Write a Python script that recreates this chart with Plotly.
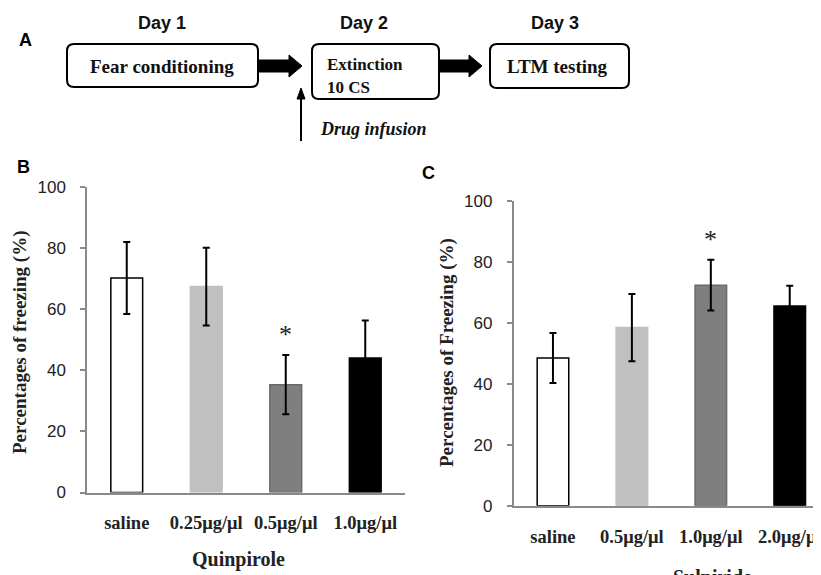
import plotly.graph_objects as go

# The page places the figure 8px in from the top-left corner of the window,
# so the figure is sized to fill the rest of the 821x575 view.
OX, OY = 8, 8
FW, FH = 821 - OX, 575 - OY

# ---------------- data ----------------
quin_cats = ["saline", "0.25μg/μl", "0.5μg/μl", "1.0μg/μl"]
quin_means = [70.2, 67.4, 35.3, 44.0]
quin_sem = [11.8, 12.7, 9.7, 12.3]
quin_sig = [False, False, True, False]

sulp_cats = ["saline", "0.5μg/μl", "1.0μg/μl", "2.0μg/μl"]
sulp_means = [48.4, 58.4, 72.3, 65.5]
sulp_sem = [8.2, 11.0, 8.3, 6.6]
sulp_sig = [False, False, True, False]

y_ticks = [0, 20, 40, 60, 80, 100]

bar_colors = ["white", "#c0c0c0", "#7f7f7f", "black"]
bar_lines = ["black", "#c0c0c0", "#6a6a6a", "black"]

SERIF = "Liberation Serif, Times New Roman, serif"
SANS = "Liberation Sans, Arial, sans-serif"


def px(x):
    return (x - OX) / FW


def py(y):
    return 1 - (y - OY) / FH


fig = go.Figure()

for cats, means, sem, xa, ya in [
    (quin_cats, quin_means, quin_sem, "x", "y"),
    (sulp_cats, sulp_means, sulp_sem, "x2", "y2"),
]:
    fig.add_trace(go.Bar(
        x=cats, y=means, xaxis=xa, yaxis=ya, width=0.4,
        marker=dict(color=bar_colors, line=dict(color=bar_lines, width=1.5)),
        error_y=dict(type="data", array=sem, visible=True, color="black",
                     thickness=2, width=3.5),
        showlegend=False, hoverinfo="x+y",
    ))

axis_common = dict(showgrid=False, zeroline=False, showline=True, automargin=False,
                   linecolor="#8a8a8a", linewidth=1.5)
xtick_font = dict(family=SERIF, size=18.5, color="#222", weight="bold")
ytick_font = dict(family=SANS, size=17, color="#222")

fig.update_layout(
    width=FW, height=FH, margin=dict(l=0, r=0, t=0, b=0, pad=0), autosize=False,
    paper_bgcolor="white", plot_bgcolor="white",
    xaxis=dict(domain=[px(87), px(405)], range=[-0.5, 3.5], anchor="y",
               type="category", ticks="", ticklabelstandoff=13,
               tickfont=xtick_font, **axis_common),
    yaxis=dict(domain=[py(492.5), py(187)], range=[0, 100], anchor="x",
               tickvals=y_ticks, ticks="outside", ticklen=5, tickcolor="#8a8a8a",
               tickwidth=1.5, ticklabelstandoff=11,
               tickfont=ytick_font, **axis_common),
    xaxis2=dict(domain=[px(513.5), 1.0], range=[-0.5, 3.396], anchor="y2",
                type="category", ticks="", ticklabelstandoff=13,
                tickfont=xtick_font, **axis_common),
    yaxis2=dict(domain=[py(505.7), py(200.7)], range=[0, 100], anchor="x2",
                tickvals=y_ticks, ticks="outside", ticklen=5, tickcolor="#8a8a8a",
                tickwidth=1.5, ticklabelstandoff=11,
                tickfont=ytick_font, **axis_common),
)

ann = []
# significance stars
for cats, means, sem, sig, xa, ya in [
    (quin_cats, quin_means, quin_sem, quin_sig, "x", "y"),
    (sulp_cats, sulp_means, sulp_sem, sulp_sig, "x2", "y2"),
]:
    for c, m, s, g in zip(cats, means, sem, sig):
        if g:
            ann.append(dict(x=c, y=m + s, xref=xa, yref=ya, text="*",
                            showarrow=False, xanchor="center", yanchor="bottom",
                            yshift=4, font=dict(family=SERIF, size=26, color="#222")))


def txt(text, x, y, size, family=SERIF, xanchor="center", yanchor="middle",
        angle=0, color="#111"):
    return dict(x=px(x), y=py(y), xref="paper", yref="paper", text=text,
                showarrow=False, xanchor=xanchor, yanchor=yanchor, textangle=angle,
                font=dict(family=family, size=size, color=color))


# axis titles
ann += [
    txt("<b>Percentages of freezing (%)</b>", 20, 342, 19, angle=-90, color="#222"),
    txt("<b>Percentages of Freezing (%)</b>", 447, 353, 19, angle=-90, color="#222"),
    txt("<b>Quinpirole</b>", 238, 559, 20, color="#222"),
    txt("<b>Sulpiride</b>", 712, 564, 20, yanchor="top", color="#222"),
]

# panel letters
for t, x, y in [("A", 25, 40), ("B", 23, 167), ("C", 428, 173)]:
    ann.append(txt(f"<b>{t}</b>", x, y, 18, family=SANS, color="black"))

# panel A texts
for t, x, y in [("Day 1", 162, 23), ("Day 2", 364, 23), ("Day 3", 555, 23)]:
    ann.append(txt(f"<b>{t}</b>", x, y, 18, family=SANS))

ann += [
    txt("<b>Fear conditioning</b>", 162, 66, 19),
    txt("<b>Extinction</b>", 325, 64, 17, xanchor="left"),
    txt("<b>10 CS</b>", 325, 87, 17, xanchor="left"),
    txt("<b>LTM testing</b>", 557, 66, 19),
    txt("<b><i>Drug infusion</i></b>", 318, 129, 18, xanchor="left"),
]
fig.update_layout(annotations=ann)


def rounded_rect(x0, y0, x1, y1, r=7):
    pts = [
        f"M{px(x0 + r)},{py(y0)}",
        f"L{px(x1 - r)},{py(y0)}",
        f"Q{px(x1)},{py(y0)} {px(x1)},{py(y0 + r)}",
        f"L{px(x1)},{py(y1 - r)}",
        f"Q{px(x1)},{py(y1)} {px(x1 - r)},{py(y1)}",
        f"L{px(x0 + r)},{py(y1)}",
        f"Q{px(x0)},{py(y1)} {px(x0)},{py(y1 - r)}",
        f"L{px(x0)},{py(y0 + r)}",
        f"Q{px(x0)},{py(y0)} {px(x0 + r)},{py(y0)}",
        "Z",
    ]
    return dict(type="path", xref="paper", yref="paper", path=" ".join(pts),
                line=dict(color="black", width=2), fillcolor="white", layer="below")


def fat_arrow(x0, x1, yc, bh=6, hh=11, hl=13):
    xs = [x0, x1 - hl, x1 - hl, x1, x1 - hl, x1 - hl, x0]
    ys = [yc - bh, yc - bh, yc - hh, yc, yc + hh, yc + bh, yc + bh]
    p = "M" + " L".join(f"{px(a)},{py(b)}" for a, b in zip(xs, ys)) + " Z"
    return dict(type="path", xref="paper", yref="paper", path=p,
                line=dict(color="black", width=1), fillcolor="black")


shapes = [
    rounded_rect(67, 44, 258, 87),
    rounded_rect(312, 44, 439, 99),
    rounded_rect(490, 44, 629, 88),
    fat_arrow(259, 302, 66),
    fat_arrow(440, 482, 66),
    dict(type="line", xref="paper", yref="paper", x0=px(301), x1=px(301),
         y0=py(141), y1=py(95), line=dict(color="black", width=2)),
    dict(type="path", xref="paper", yref="paper",
         path=f"M{px(297)},{py(99)} L{px(301)},{py(88)} L{px(305)},{py(99)} Z",
         fillcolor="black", line=dict(color="black", width=1)),
]
fig.update_layout(shapes=shapes)

fig.write_html("out.html")
